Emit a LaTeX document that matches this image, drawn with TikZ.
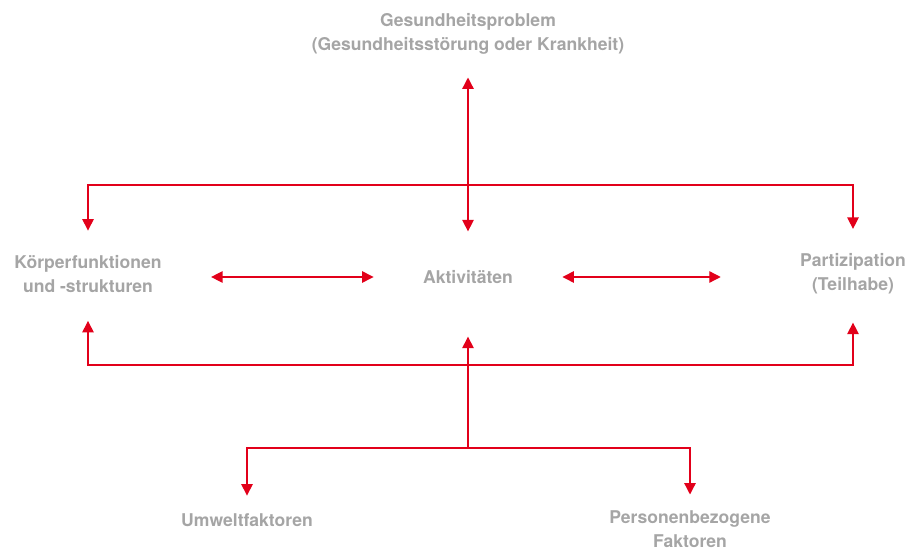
\documentclass[tikz,border=0pt]{standalone}
\usepackage{fontspec}
\setmainfont{TeX Gyre Heros}
\usetikzlibrary{positioning,arrows.meta}
\definecolor{textgrau}{RGB}{165,165,165}
\definecolor{pfeilrot}{RGB}{226,0,26}
\tikzset {
komponente/.style={font=\bfseries\fontsize{10}{13.5}\selectfont,text=textgrau,align=center,inner sep=0pt},
pfeil/.style={draw=pfeilrot,line width=0.75pt,-{Triangle[length=6.5pt,width=6.5pt]}},
doppelpfeil/.style={pfeil,{Triangle[length=6.5pt,width=6.5pt]}-{Triangle[length=6.5pt,width=6.5pt]}}
}
\begin{document}
\begin{tikzpicture}
[x=0.02cm,y=-0.02cm]
\useasboundingbox (0,0) rectangle (916,550);
\node[komponente] (gesundheit) at (468,34) {Gesundheitsproblem\\(Gesundheitsstörung oder Krankheit)};
\node[komponente] (koerper) at (88,274) {Körperfunktionen\\und -strukturen};
\node[komponente] (aktivitaeten) at (468,277) {Aktivitäten};
\node[komponente] (partizipation) at (853,274) {Partizipation\\(Teilhabe)};
\node[komponente] (umwelt) at (247,520) {Umweltfaktoren};
\node[komponente] (person) at (690,529) {Personenbezogene\\Faktoren};
\coordinate (oben) at (468,185);
\coordinate (unten) at (468,365);
\coordinate (faktoren) at (468,448);

\draw[doppelpfeil,shorten <=13pt,shorten >=22pt] (gesundheit) -- (aktivitaeten);
\draw[pfeil,shorten >=14pt] (oben) -| (koerper);
\draw[pfeil,shorten >=14pt] (oben) -| (partizipation);
\draw[doppelpfeil,shorten <=28pt,shorten >=28pt] (koerper.east |- aktivitaeten.west) -- (aktivitaeten.west);
\draw[doppelpfeil,shorten <=28pt,shorten >=45pt] (aktivitaeten.east) -- (partizipation.west |- aktivitaeten.east);
\draw[pfeil,shorten >=16pt] (unten) -| (koerper);
\draw[pfeil,shorten >=16pt] (unten) -| (partizipation);
\draw[pfeil,shorten >=30pt] (faktoren) -- (aktivitaeten);
\draw[pfeil,shorten >=10pt] (faktoren) -| (umwelt);
\draw[pfeil,shorten >=9pt] (faktoren) -| (person);
\end{tikzpicture}
\end{document}
